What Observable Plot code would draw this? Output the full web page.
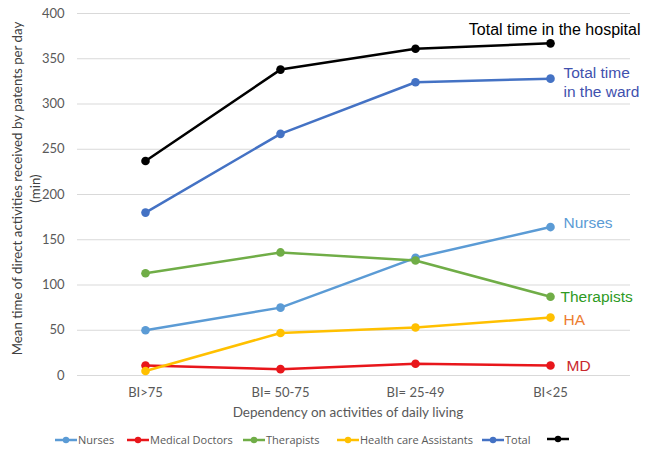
<!DOCTYPE html>
<html>
<head>
<meta charset="utf-8">
<script src="https://cdn.jsdelivr.net/npm/d3@7"></script>
<script src="https://cdn.jsdelivr.net/npm/@observablehq/plot@0.6"></script>
<style>
  body { margin: 0; background: #fff; }
  #chart svg { display: block; }
  #legend { position: relative; width: 645px; height: 21px; font-family: "Open Sans", sans-serif; font-size: 11px; color: #595959; }
  .item { position: absolute; top: 4px; display: flex; align-items: center; white-space: nowrap; line-height: 12px; }
  .item svg { margin-right: 1px; }
</style>
</head>
<body>
<div id="chart"></div>
<div id="legend"></div>
<script>
const categories = ["BI>75", "BI= 50-75", "BI= 25-49", "BI<25"];
const nurses = [50, 75, 130, 164];
const doctors = [11, 7, 13, 11];
const therapists = [113, 136, 127, 87];
const assistants = [5, 47, 53, 64];
const totalWard = [180, 267, 324, 328];
const totalHospital = [237, 338, 361, 367];
const yTicks = [0, 50, 100, 150, 200, 250, 300, 350, 400];

const seriesNames = ["Nurses", "Medical Doctors", "Therapists", "Health care Assistants", "Total", ""];
const seriesValues = [nurses, doctors, therapists, assistants, totalWard, totalHospital];
const seriesColors = ["#5B9BD5", "#E8161B", "#70AD47", "#FFC000", "#4472C4", "#000000"];
const endLabels = ["Nurses", "MD", "Therapists", "HA", "Total time\nin the ward", "Total time in the hospital"];
const endLabelColors = ["#5B9BD5", "#C9282D", "#2E9A1F", "#ED7D31", "#3F51AE", "#000000"];
const endLabelOffsets = [[13, -5, "start", 15.5], [16, -1, "start", 15.5], [10, -1, "start", 15.5], [13, 1, "start", 15.5], [13, 3, "start", 15.5], [90, -15, "end", 16]];
const yTitle = "Mean time of direct activities received by patents per day\n(min)";
const xTitle = "Dependency on activities of daily living";
const legendLeft = [55, 127, 243, 337, 482, 547];

const series = seriesValues.map((vals, i) => vals.map((v, j) => ({category: categories[j], value: v, series: i})));

const marks = [
  Plot.ruleY(yTicks, {stroke: "#d9d9d9", strokeWidth: 1}),
  Plot.axisY({ticks: yTicks, tickSize: 0, tickPadding: 13, fontSize: 13, label: null}),
  Plot.axisX({tickSize: 0, tickPadding: 12, fontSize: 13, label: null}),
  Plot.text([yTitle], {frameAnchor: "left", dx: -52, dy: -6, rotate: -90, text: d => d, fontSize: 13.3, lineHeight: 1.3, textAnchor: "middle", fill: "#404040"}),
  Plot.text([xTitle], {frameAnchor: "bottom", dy: 41, dx: -6, text: d => d, fontSize: 13.5, fill: "#595959"})
];
series.forEach((data, i) => {
  marks.push(Plot.line(data, {x: "category", y: "value", stroke: seriesColors[i], strokeWidth: 2.5}));
  marks.push(Plot.dot(data, {x: "category", y: "value", fill: seriesColors[i], r: 4.3}));
});
series.forEach((data, i) => {
  const last = data[data.length - 1];
  const [dx, dy, anchor, size] = endLabelOffsets[i];
  marks.push(Plot.text([last], {
    x: "category", y: "value", text: () => endLabels[i],
    dx, dy, textAnchor: anchor, fill: endLabelColors[i],
    fontSize: size, fontFamily: "Liberation Sans, Arial, sans-serif", lineHeight: 1.23
  }));
});

const chart = Plot.plot({
  width: 645,
  height: 430,
  marginLeft: 77,
  marginRight: 15,
  marginTop: 13,
  marginBottom: 55,
  x: {type: "point", domain: categories, range: [145, 550], padding: 0},
  y: {domain: [0, 400]},
  style: {fontFamily: "Lato, sans-serif", color: "#595959", background: "#fff"},
  marks
});
document.getElementById("chart").appendChild(chart);

const legend = document.getElementById("legend");
seriesNames.forEach((name, i) => {
  const item = document.createElement("div");
  item.className = "item";
  item.style.left = legendLeft[i] + "px";
  item.innerHTML = `<svg width="22" height="10"><line x1="0" x2="22" y1="5" y2="5" stroke="${seriesColors[i]}" stroke-width="2.5"/><circle cx="11" cy="5" r="3.2" fill="${seriesColors[i]}"/></svg><span>${name}</span>`;
  legend.appendChild(item);
});
</script>
</body>
</html>
